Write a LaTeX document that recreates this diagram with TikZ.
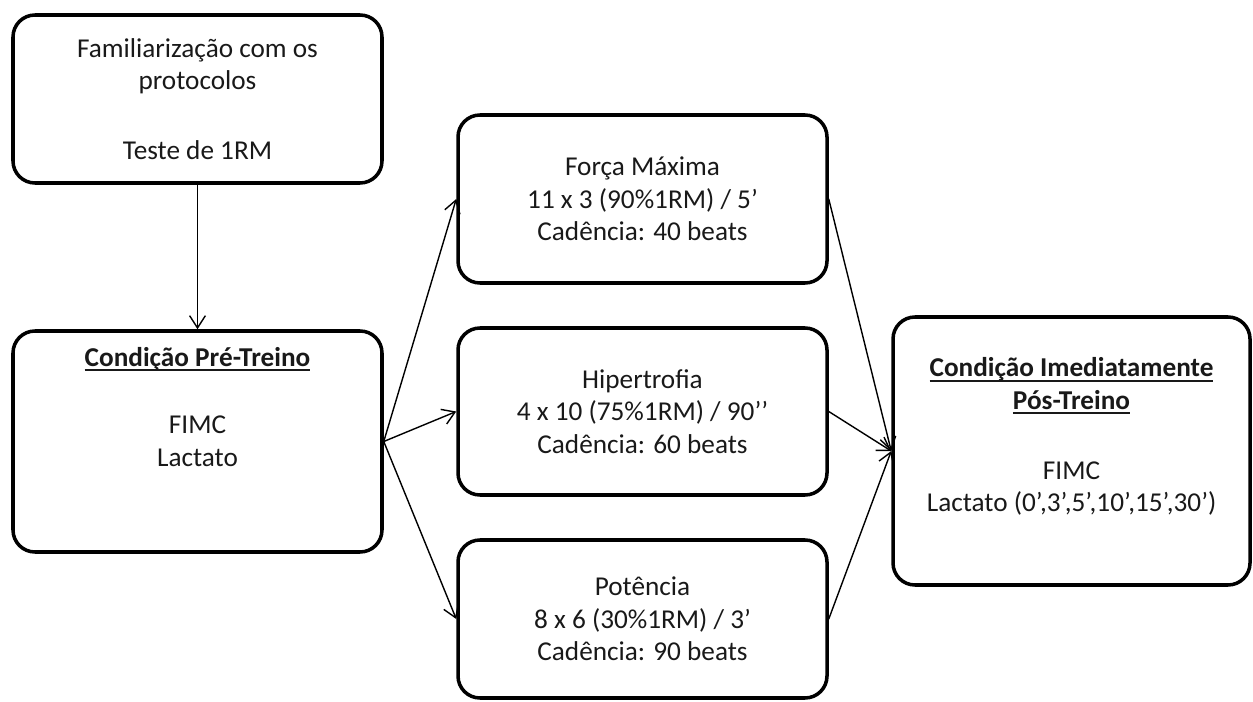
\documentclass[tikz,border=0pt]{standalone}
\usepackage{fontspec}
\setmainfont{Carlito}
\usetikzlibrary{arrows.meta}
\newlength{\px}
\setlength{\px}{0.02cm}
\newcommand{\sublinha}[1]{\setbox0=\hbox{#1}\rlap{\rule[-2.8pt]{\wd0}{1.1pt}}\box0}

\begin{document}
\begin{tikzpicture}[x=0.02cm,y=-0.02cm,line cap=round,line join=round,
    caixa/.style={draw,line width=2pt,rounded corners=22\px,align=center,inner sep=0pt,
      minimum width=369\px,font=\fontsize{15.5pt}{18.4pt}\selectfont,text=black!90},
    seta/.style={-{Straight Barb[length=7pt,width=9pt]},line width=0.8pt}]
      \useasboundingbox (0,0) rectangle (1253,702);
      % coluna da esquerda
      \node[caixa,minimum height=168\px] (famil) at (197.5,99) {Familiarização com os\\ protocolos\\[37\px] Teste de 1RM};
      \node[caixa,minimum height=221\px] (pre) at (197.5,441.5) {\sublinha{\textbf{Condição Pré-Treino}}\\[35\px] FIMC\\ Lactato\\ \mbox{}\\[5\px] \mbox{}};
      % protocolos de treino
      \node[caixa,minimum height=168\px] (forca) at (642.5,199) {Força Máxima\\ 11 x 3 (90\%1RM) / 5’\\ Cadência: 40 beats};
      \node[caixa,minimum height=167\px] (hiper) at (642.5,411.5) {Hipertrofia\\ 4 x 10 (75\%1RM) / 90’’\\ Cadência: 60 beats};
      \node[caixa,minimum height=158\px] (poten) at (642.5,619) {Potência\\ 8 x 6 (30\%1RM) / 3’\\ Cadência: 90 beats};
      % coluna da direita
      \node[caixa,minimum width=357\px,minimum height=268\px] (pos) at (1071.5,451) {\sublinha{\textbf{Condição Imediatamente}}\\ \sublinha{\textbf{Pós-Treino}}\\[38\px] FIMC\\ Lactato (0’,3’,5’,10’,15’,30’)\\ \mbox{}};
      \draw[seta] (famil) -- (pre);
      \draw[seta] (pre.east) -- (forca.west);
      \draw[seta] (pre.east) -- (hiper.west);
      \draw[seta] (pre.east) -- (poten.west);
      \draw[seta] (forca.east) -- (pos.west);
      \draw[seta] (hiper.east) -- (pos.west);
      \draw[seta] (poten.east) -- (pos.west);
\end{tikzpicture}
\end{document}
